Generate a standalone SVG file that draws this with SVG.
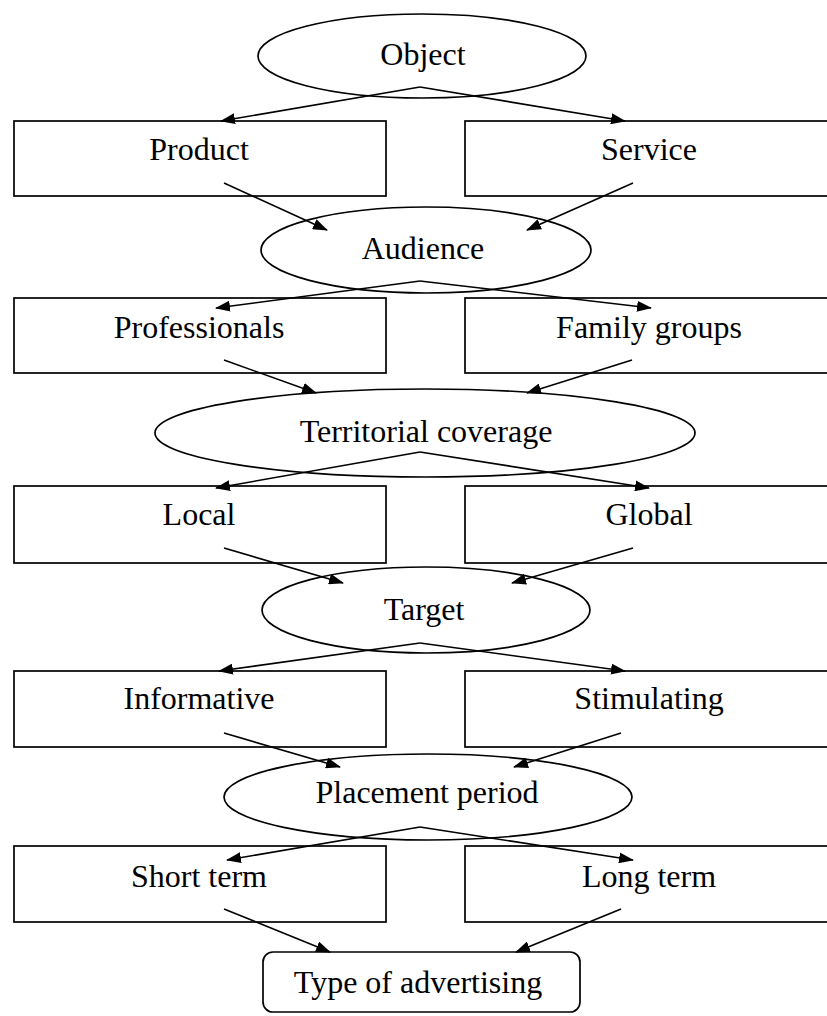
<svg xmlns="http://www.w3.org/2000/svg" width="827" height="1016" viewBox="0 0 827 1016">
<style>
.n{fill:#fff;stroke:#000;stroke-width:1.7}
.t{font-family:"Liberation Serif","Times New Roman",serif;font-size:32px;fill:#000;text-anchor:middle}
.c{stroke:#000;stroke-width:1.6;fill:none;marker-end:url(#ah)}
</style>
<defs>
<marker id="ah" markerUnits="userSpaceOnUse" markerWidth="15" markerHeight="11" refX="14" refY="5.5" orient="auto">
<path d="M0,0 L15,5.5 L0,11 z" fill="#000"/>
</marker>
</defs>
<rect width="827" height="1016" fill="#fff"/>
<g id="object"><ellipse class="n" cx="422" cy="56" rx="164" ry="42"/><text class="t" x="423" y="65">Object</text></g>
<g id="product"><rect class="n" x="14" y="121" width="372" height="75"/><text class="t" x="199" y="160">Product</text></g>
<g id="service"><rect class="n" x="465" y="121" width="380" height="75"/><text class="t" x="649" y="160">Service</text></g>
<g id="audience"><ellipse class="n" cx="426" cy="250" rx="165" ry="43"/><text class="t" x="423" y="259">Audience</text></g>
<g id="professionals"><rect class="n" x="14" y="298" width="372" height="75"/><text class="t" x="199" y="338">Professionals</text></g>
<g id="family"><rect class="n" x="465" y="298" width="380" height="75"/><text class="t" x="649" y="338">Family groups</text></g>
<g id="territorial"><ellipse class="n" cx="425" cy="433" rx="270" ry="44"/><text class="t" x="426" y="442">Territorial coverage</text></g>
<g id="local"><rect class="n" x="14" y="486" width="372" height="77"/><text class="t" x="199" y="525">Local</text></g>
<g id="global"><rect class="n" x="465" y="486" width="380" height="77"/><text class="t" x="649" y="525">Global</text></g>
<g id="target"><ellipse class="n" cx="426" cy="610" rx="164" ry="43"/><text class="t" x="424" y="620">Target</text></g>
<g id="informative"><rect class="n" x="14" y="671" width="372" height="76"/><text class="t" x="199" y="709">Informative</text></g>
<g id="stimulating"><rect class="n" x="465" y="671" width="380" height="76"/><text class="t" x="649" y="709">Stimulating</text></g>
<g id="placement"><ellipse class="n" cx="428" cy="797" rx="204" ry="43"/><text class="t" x="427" y="803">Placement period</text></g>
<g id="short"><rect class="n" x="14" y="846" width="372" height="76"/><text class="t" x="199" y="887">Short term</text></g>
<g id="long"><rect class="n" x="465" y="846" width="380" height="76"/><text class="t" x="649" y="887">Long term</text></g>
<g id="type"><rect class="n" x="263" y="952" width="317" height="60" rx="10"/><text class="t" x="418" y="993">Type of advertising</text></g>
<g id="connectors">
<line class="c" x1="420" y1="87" x2="221" y2="121"/>
<line class="c" x1="420" y1="87" x2="625" y2="121"/>
<line class="c" x1="224" y1="183" x2="327" y2="230"/>
<line class="c" x1="633" y1="183" x2="527" y2="230"/>
<line class="c" x1="420" y1="281" x2="216" y2="308"/>
<line class="c" x1="420" y1="281" x2="651" y2="308"/>
<line class="c" x1="224" y1="360" x2="316" y2="393"/>
<line class="c" x1="632" y1="360" x2="527" y2="393"/>
<line class="c" x1="420" y1="452" x2="216" y2="488"/>
<line class="c" x1="420" y1="452" x2="649" y2="488"/>
<line class="c" x1="224" y1="548" x2="343" y2="583"/>
<line class="c" x1="633" y1="548" x2="512" y2="583"/>
<line class="c" x1="420" y1="643" x2="219" y2="671"/>
<line class="c" x1="420" y1="643" x2="625" y2="671"/>
<line class="c" x1="224" y1="733" x2="340" y2="767"/>
<line class="c" x1="621" y1="733" x2="514" y2="767"/>
<line class="c" x1="420" y1="827" x2="227" y2="860"/>
<line class="c" x1="420" y1="827" x2="633" y2="860"/>
<line class="c" x1="224" y1="909" x2="330" y2="952"/>
<line class="c" x1="621" y1="909" x2="516" y2="952"/>
</g>
</svg>
